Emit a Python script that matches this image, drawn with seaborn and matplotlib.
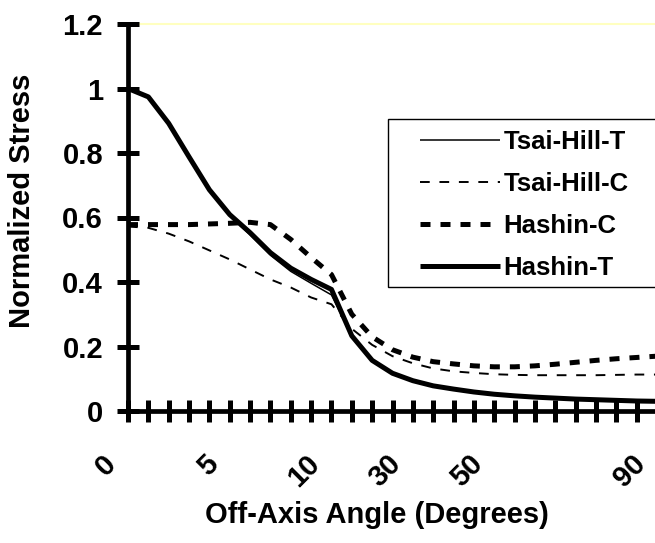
import matplotlib
matplotlib.use("Agg")
import matplotlib.pyplot as plt
import matplotlib.transforms as mtransforms
from matplotlib.patches import Rectangle
import pandas as pd
import seaborn as sns

# off-axis angle categories (degrees), evenly spaced on a category axis
angles = ["0", "1", "2", "3", "4", "5", "6", "7", "8", "9", "10",
          "15", "20", "25", "30", "35", "40", "45", "50", "55", "60",
          "65", "70", "75", "80", "85", "90"]
shown_labels = ["0", "5", "10", "30", "50", "90"]
y_ticks = [0, 0.2, 0.4, 0.6, 0.8, 1.0, 1.2]
y_tick_labels = ["0", "0.2", "0.4", "0.6", "0.8", "1", "1.2"]

tsai_hill_t = [1.0, 0.972, 0.890, 0.785, 0.683, 0.605, 0.546, 0.483, 0.433, 0.396, 0.360,
               0.232, 0.157, 0.117, 0.093, 0.078, 0.067, 0.059, 0.052, 0.047, 0.043,
               0.040, 0.037, 0.035, 0.033, 0.031, 0.030]
tsai_hill_c = [0.572, 0.568, 0.550, 0.526, 0.498, 0.470, 0.439, 0.408, 0.383, 0.352, 0.331,
               0.255, 0.205, 0.170, 0.148, 0.132, 0.123, 0.118, 0.114, 0.112, 0.111,
               0.111, 0.111, 0.111, 0.112, 0.113, 0.113]
hashin_c = [0.578, 0.578, 0.578, 0.578, 0.580, 0.582, 0.585, 0.578, 0.532, 0.476, 0.423,
            0.300, 0.230, 0.190, 0.167, 0.153, 0.146, 0.140, 0.137, 0.137, 0.140,
            0.145, 0.151, 0.157, 0.162, 0.166, 0.170]
hashin_t = [1.0, 0.974, 0.892, 0.788, 0.686, 0.609, 0.553, 0.491, 0.443, 0.408, 0.377,
            0.233, 0.157, 0.117, 0.094, 0.078, 0.068, 0.059, 0.052, 0.047, 0.043,
            0.040, 0.037, 0.035, 0.033, 0.031, 0.030]

df = pd.DataFrame({"angle": angles,
                   "Tsai-Hill-T": tsai_hill_t,
                   "Tsai-Hill-C": tsai_hill_c,
                   "Hashin-C": hashin_c,
                   "Hashin-T": hashin_t})
long_df = df.melt(id_vars="angle", var_name="criterion", value_name="stress")

styles = {
    "Tsai-Hill-T": dict(lw=1.1, linestyle="-"),
    "Tsai-Hill-C": dict(lw=1.4, linestyle=(0, (5, 5))),
    "Hashin-C": dict(lw=3.6, linestyle=(0, (2, 2))),
    "Hashin-T": dict(lw=3.6, linestyle="-"),
}

sns.set_style("white")
plt.rcParams["font.family"] = ["Liberation Sans", "DejaVu Sans"]
plt.rcParams["font.weight"] = "bold"
plt.rcParams["axes.labelweight"] = "bold"
plt.rcParams["text.color"] = "black"
plt.rcParams["axes.labelcolor"] = "black"

W, H = 655, 543
fig = plt.figure(figsize=(W / 100, H / 100), dpi=100)
ax = fig.add_axes([128 / W, 1 - 411 / H, (657 - 128) / W, (411 - 24) / H])

for name, st in styles.items():
    sns.lineplot(data=long_df[long_df["criterion"] == name], x="angle", y="stress",
                 color="black", label=name, sort=False, ax=ax,
                 solid_capstyle="butt", dash_capstyle="butt", **st)

# pale top border of the plot area
ax.axhline(1.2, color="#FFFFC0", lw=1.5, zorder=0, clip_on=False)

ax.set_xlim(0, len(angles) - 1)
ax.set_ylim(0, 1.2)
ax.set_yticks(y_ticks)
ax.set_yticklabels(y_tick_labels)
ax.set_xticks(range(len(angles)))
ax.set_xticklabels([a if a in shown_labels else "" for a in angles],
                   rotation=45, ha="right")

for side in ["top", "right"]:
    ax.spines[side].set_visible(False)
for side in ["left", "bottom"]:
    ax.spines[side].set_linewidth(3.4)
    ax.spines[side].set_color("black")

ax.tick_params(axis="both", direction="inout", length=16, width=3.6,
               color="black", labelsize=21, labelcolor="black",
               bottom=True, left=True)
ax.tick_params(axis="y", pad=10)
ax.tick_params(axis="x", pad=20)

shift = mtransforms.ScaledTranslation(-6 / 100, 0, fig.dpi_scale_trans)
for lab in ax.get_xticklabels():
    lab.set_transform(lab.get_transform() + shift)

ax.set_xlabel("Off-Axis Angle (Degrees)", fontsize=21, va="center")
ax.set_ylabel("Normalized Stress", fontsize=21, va="center")
ax.xaxis.set_label_coords((377 - 128) / 529, (411 - 515) / 387)
ax.yaxis.set_label_coords((22 - 128) / 529, (411 - 201) / 387)

# legend box drawn separately so the left padding can be wider than the top
ax.add_patch(Rectangle((388 / W, 1 - 287 / H), (700 - 388) / W, (287 - 119) / H,
                       transform=fig.transFigure, facecolor="white",
                       edgecolor="black", lw=1, zorder=4, clip_on=False))
ax.legend(loc="upper left", bbox_to_anchor=(420 / W, 1 - 130 / H),
          bbox_transform=fig.transFigure, frameon=False, fontsize=18.5,
          handlelength=3.1, handletextpad=0.15, labelspacing=0.7,
          borderpad=0, borderaxespad=0)

fig.savefig("out.png", dpi=100)
